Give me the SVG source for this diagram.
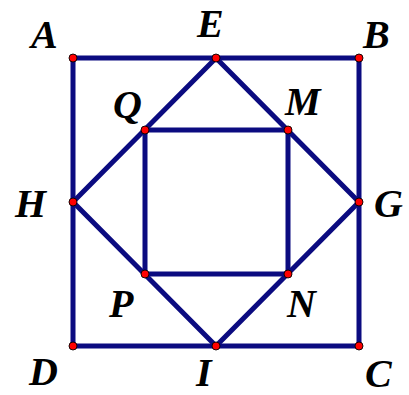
<svg xmlns="http://www.w3.org/2000/svg" width="409" height="395" viewBox="0 0 409 395">
<style>
.ln{stroke:#0b0b80;stroke-width:5;fill:none;stroke-linejoin:round;stroke-linecap:round}
.pt{fill:#ff0000;stroke:#000;stroke-width:0.9}
.lb{font-family:"Liberation Serif","Times New Roman",serif;font-weight:bold;font-style:italic;font-size:40px;fill:#000}
</style>
<rect width="409" height="395" fill="#fff"/>
<g id="connectors">
<polygon class="ln" points="73,58 359,58 359,346 73,346"/>
<polygon class="ln" points="216,58 359,202 216,346 73,202"/>
<polygon class="ln" points="145,130 288,130 288,274 145,274"/>
</g>
<g id="A"><circle class="pt" cx="73" cy="58" r="4"/><text class="lb" x="31" y="48">A</text></g>
<g id="E"><circle class="pt" cx="216" cy="58" r="4"/><text class="lb" x="197" y="37">E</text></g>
<g id="B"><circle class="pt" cx="359" cy="58" r="4"/><text class="lb" x="363" y="48">B</text></g>
<g id="Q"><circle class="pt" cx="145" cy="130" r="4"/><text class="lb" x="113" y="118">Q</text></g>
<g id="M"><circle class="pt" cx="288" cy="130" r="4"/><text class="lb" x="285" y="115">M</text></g>
<g id="H"><circle class="pt" cx="73" cy="202" r="4"/><text class="lb" x="15" y="217">H</text></g>
<g id="G"><circle class="pt" cx="359" cy="202" r="4"/><text class="lb" x="374" y="217">G</text></g>
<g id="P"><circle class="pt" cx="145" cy="274" r="4"/><text class="lb" x="109" y="317">P</text></g>
<g id="N"><circle class="pt" cx="288" cy="274" r="4"/><text class="lb" x="287" y="317">N</text></g>
<g id="D"><circle class="pt" cx="73" cy="346" r="4"/><text class="lb" x="29" y="385">D</text></g>
<g id="I"><circle class="pt" cx="216" cy="346" r="4"/><text class="lb" x="196" y="386">I</text></g>
<g id="C"><circle class="pt" cx="359" cy="346" r="4"/><text class="lb" x="365" y="387">C</text></g>
</svg>
